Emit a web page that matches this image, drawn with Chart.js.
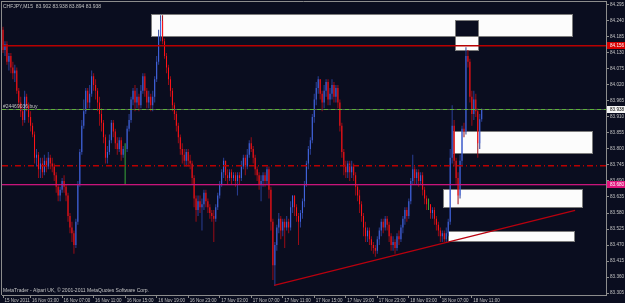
<!DOCTYPE html>
<html>
<head>
<meta charset="utf-8">
<script src="https://cdn.jsdelivr.net/npm/chart.js@4.4.0/dist/chart.umd.min.js"></script>
<style>
  html, body { margin: 0; padding: 0; background: #0a0d1f; }
  #wrap { width: 625px; height: 303px; }
</style>
</head>
<body>
<div id="wrap"><canvas id="chart" width="625" height="303"></canvas></div>
<script>
// CHFJPY M15, bar 0 = 15 Nov 23:30, one entry per bar
// each bar opens at the previous close
const firstOpen = 84.21;
const closes = [
  84.14, 84.16, 84.10, 84.12, 84.08, 84.06, 84.07, 84.00, 83.96, 83.93,
  83.90, 83.98, 83.95, 83.91, 83.88, 83.85, 83.77, 83.78, 83.73, 83.75,
  83.72, 83.76, 83.74, 83.77, 83.75, 83.74, 83.71, 83.67, 83.64, 83.66,
  83.69, 83.67, 83.64, 83.57, 83.53, 83.51, 83.47, 83.55, 83.68, 83.79,
  83.88, 83.93, 84.00, 83.96, 83.99, 84.05, 84.02, 84.00, 83.96, 83.92,
  83.89, 83.84, 83.77, 83.79, 83.83, 83.89, 83.86, 83.82, 83.80, 83.83,
  83.78, 83.80, 83.80, 83.87, 83.90, 83.97, 84.00, 83.96, 83.98, 83.95,
  84.00, 84.05, 84.00, 83.96, 83.98, 83.95, 83.98, 84.04, 84.10, 84.19,
  84.24, 84.17, 84.12, 84.08, 84.04, 84.00, 83.95, 83.92, 83.88, 83.84,
  83.80, 83.78, 83.76, 83.79, 83.76, 83.75, 83.70, 83.63, 83.59, 83.62,
  83.60, 83.61, 83.65, 83.62, 83.60, 83.58, 83.57, 83.56, 83.60, 83.64,
  83.68, 83.72, 83.76, 83.71, 83.70, 83.72, 83.70, 83.71, 83.69, 83.71,
  83.70, 83.74, 83.77, 83.74, 83.78, 83.82, 83.80, 83.77, 83.73, 83.71,
  83.68, 83.69, 83.71, 83.69, 83.73, 83.66, 83.55, 83.40, 83.47, 83.53,
  83.56, 83.52, 83.55, 83.53, 83.55, 83.53, 83.60, 83.64, 83.60, 83.57,
  83.55, 83.58, 83.62, 83.68, 83.75, 83.80, 83.83, 83.91, 83.97, 84.01,
  84.04, 83.99, 83.96, 84.00, 84.03, 83.97, 83.99, 84.02, 83.98, 84.01,
  83.96, 83.88, 83.79, 83.74, 83.72, 83.75, 83.72, 83.74, 83.71, 83.67,
  83.64, 83.61, 83.57, 83.53, 83.50, 83.52, 83.49, 83.47, 83.46, 83.45,
  83.49, 83.52, 83.55, 83.53, 83.56, 83.54, 83.50, 83.47, 83.48, 83.46,
  83.50, 83.49, 83.53, 83.56, 83.59, 83.57, 83.62, 83.69, 83.73, 83.70,
  83.72, 83.69, 83.71, 83.66, 83.63, 83.61, 83.61, 83.58, 83.59, 83.56,
  83.54, 83.52, 83.50, 83.51, 83.49, 83.51, 83.55, 83.77, 83.88, 83.76,
  83.70, 83.64, 83.76, 83.87, 83.86, 84.12, 84.10, 83.98, 83.92, 83.97,
  83.93, 83.82, 83.902, 83.938
];
const highs = [
  84.22, 84.17, 84.17, 84.13, 84.13, 84.10, 84.09, 84.08, 84.01, 83.98,
  83.94, 84.00, 83.99, 83.96, 83.93, 83.89, 83.86, 83.80, 83.79, 83.77,
  83.77, 83.78, 83.77, 83.79, 83.78, 83.77, 83.75, 83.72, 83.68, 83.67,
  83.70, 83.71, 83.68, 83.65, 83.58, 83.55, 83.52, 83.56, 83.69, 83.80,
  83.90, 83.97, 84.01, 84.01, 84.02, 84.07, 84.06, 84.04, 84.01, 83.98,
  83.94, 83.90, 83.85, 83.81, 83.85, 83.90, 83.90, 83.87, 83.84, 83.84,
  83.84, 83.81, 83.82, 83.88, 83.92, 83.98, 84.01, 84.02, 84.01, 83.99,
  84.02, 84.06, 84.06, 84.01, 84.00, 83.99, 84.00, 84.05, 84.12, 84.21,
  84.26, 84.26, 84.18, 84.13, 84.09, 84.05, 84.01, 83.96, 83.93, 83.89,
  83.85, 83.82, 83.80, 83.80, 83.80, 83.78, 83.76, 83.71, 83.64, 83.64,
  83.64, 83.63, 83.66, 83.66, 83.63, 83.61, 83.59, 83.59, 83.61, 83.65,
  83.69, 83.73, 83.77, 83.76, 83.73, 83.73, 83.73, 83.72, 83.72, 83.72,
  83.72, 83.76, 83.78, 83.78, 83.80, 83.83, 83.84, 83.81, 83.78, 83.74,
  83.72, 83.71, 83.72, 83.72, 83.74, 83.74, 83.67, 83.56, 83.48, 83.54,
  83.58, 83.57, 83.56, 83.56, 83.57, 83.56, 83.62, 83.64, 83.64, 83.61,
  83.58, 83.59, 83.63, 83.69, 83.76, 83.81, 83.84, 83.92, 83.99, 84.03,
  84.05, 84.04, 84.00, 84.02, 84.04, 84.04, 84.01, 84.04, 84.03, 84.02,
  84.02, 83.97, 83.89, 83.80, 83.76, 83.76, 83.76, 83.76, 83.75, 83.72,
  83.68, 83.66, 83.62, 83.58, 83.55, 83.53, 83.53, 83.50, 83.48, 83.47,
  83.50, 83.53, 83.56, 83.56, 83.57, 83.57, 83.55, 83.51, 83.50, 83.49,
  83.51, 83.52, 83.54, 83.57, 83.60, 83.60, 83.63, 83.70, 83.78, 83.74,
  83.73, 83.73, 83.72, 83.72, 83.67, 83.64, 83.63, 83.61, 83.60, 83.60,
  83.57, 83.55, 83.53, 83.52, 83.52, 83.53, 83.56, 83.80, 83.95, 83.90,
  83.77, 83.72, 83.78, 83.88, 83.89, 84.15, 84.14, 84.11, 84.00, 84.00,
  83.99, 83.94, 83.92, 83.938
];
const lows = [
  84.13, 84.12, 84.09, 84.07, 84.06, 84.04, 84.03, 83.99, 83.94, 83.91,
  83.88, 83.89, 83.93, 83.89, 83.86, 83.84, 83.75, 83.74, 83.70, 83.70,
  83.70, 83.71, 83.72, 83.73, 83.73, 83.72, 83.69, 83.65, 83.62, 83.62,
  83.65, 83.65, 83.62, 83.55, 83.51, 83.48, 83.44, 83.46, 83.54, 83.67,
  83.78, 83.87, 83.92, 83.94, 83.94, 83.98, 84.00, 83.97, 83.93, 83.88,
  83.86, 83.82, 83.75, 83.75, 83.78, 83.82, 83.84, 83.80, 83.78, 83.79,
  83.76, 83.77, 83.68, 83.79, 83.86, 83.89, 83.95, 83.93, 83.94, 83.93,
  83.94, 83.99, 83.98, 83.94, 83.94, 83.93, 83.93, 83.96, 84.03, 84.09,
  84.17, 84.16, 84.11, 84.06, 84.02, 83.98, 83.93, 83.90, 83.86, 83.82,
  83.78, 83.75, 83.74, 83.74, 83.74, 83.73, 83.68, 83.60, 83.55, 83.57,
  83.58, 83.52, 83.59, 83.60, 83.58, 83.56, 83.55, 83.48, 83.55, 83.59,
  83.63, 83.67, 83.70, 83.69, 83.68, 83.69, 83.68, 83.69, 83.67, 83.64,
  83.68, 83.69, 83.73, 83.71, 83.73, 83.77, 83.79, 83.75, 83.71, 83.69,
  83.66, 83.62, 83.67, 83.67, 83.68, 83.63, 83.52, 83.35, 83.33, 83.45,
  83.51, 83.49, 83.50, 83.46, 83.52, 83.51, 83.52, 83.58, 83.57, 83.55,
  83.47, 83.53, 83.56, 83.60, 83.67, 83.73, 83.78, 83.82, 83.89, 83.95,
  83.99, 83.97, 83.93, 83.94, 83.98, 83.95, 83.95, 83.97, 83.96, 83.96,
  83.94, 83.86, 83.77, 83.71, 83.70, 83.70, 83.69, 83.70, 83.69, 83.64,
  83.62, 83.58, 83.55, 83.50, 83.48, 83.48, 83.47, 83.45, 83.44, 83.43,
  83.44, 83.47, 83.50, 83.51, 83.52, 83.52, 83.48, 83.45, 83.45, 83.44,
  83.45, 83.47, 83.48, 83.51, 83.54, 83.55, 83.56, 83.61, 83.68, 83.68,
  83.68, 83.67, 83.68, 83.64, 83.61, 83.59, 83.59, 83.56, 83.56, 83.54,
  83.52, 83.50, 83.48, 83.48, 83.48, 83.48, 83.50, 83.54, 83.75, 83.74,
  83.68, 83.61, 83.63, 83.74, 83.84, 83.85, 84.08, 83.96, 83.88, 83.90,
  83.91, 83.77, 83.80, 83.894
];

const priceTicks = [84.295, 84.240, 84.185, 84.130, 84.075, 84.020, 83.965, 83.910, 83.855,
  83.800, 83.745, 83.690, 83.635, 83.580, 83.525, 83.470, 83.415, 83.360, 83.305];
const timeTickBars = [0, 14, 30, 46, 62, 78, 94, 110, 126, 142, 158, 174, 190, 206, 222, 238];
const timeLabels = ['15 Nov 2011', '16 Nov 03:00', '16 Nov 07:00', '16 Nov 11:00', '16 Nov 15:00',
  '16 Nov 19:00', '16 Nov 23:00', '17 Nov 03:00', '17 Nov 07:00', '17 Nov 11:00', '17 Nov 15:00',
  '17 Nov 19:00', '17 Nov 23:00', '18 Nov 03:00', '18 Nov 07:00', '18 Nov 11:00'];

// levels
const resistanceLevel = 84.156;
const orderLevel = 83.938;
const stopLevel = 83.745;
const supportLevel = 83.680;
const lastPrice = 83.938;

// zones as [fromBar, toBar, upper price, lower price]
const zones = [
  [75.1, 288.8, 84.264, 84.188],
  [229.4, 241.1, 84.243, 84.140],
  [228.4, 299.0, 83.862, 83.786],
  [223.4, 293.9, 83.662, 83.601],
  [225.9, 289.8, 83.517, 83.483]
];
const overlapZone = [229.4, 241.1, 84.243, 84.188];
const trendLine = [[137.6, 83.331], [290.4, 83.589]];

const titleText = 'CHFJPY,M15  83.902 83.938 83.894 83.938';
const orderText = '#24469036 buy';
const footerText = 'MetaTrader - Alpari UK, \u00a9 2001-2011 MetaQuotes Software Corp.';

const BG = '#0a0d1f';
const FONT = '"Liberation Sans", Arial, sans-serif';
const TEXT = '#c4c4c4';
const AXIS = '#8c8c8c';

// price axis: 84.295 sits 4px under the top, 290.91 px per yen
const yMax = 84.295 + 4 / 290.91;
const yMin = 83.305 - 2 / 290.91;

const opens = closes.map((c, i) => i === 0 ? firstOpen : closes[i - 1]);
const bodies = closes.map((c, i) => ({ x: i, y: [opens[i], c] }));
const wicks = closes.map((c, i) => ({
  x: i,
  y: [Math.min(lows[i], opens[i], c), Math.max(highs[i], opens[i], c)]
}));
const bodyColors = closes.map((c, i) => c > opens[i] ? '#4468e4' : c < opens[i] ? '#ff1418' : '#3aa83a');
const wickColors = closes.map((c, i) => c > opens[i] ? '#2a3f96' : c < opens[i] ? '#9a0c16' : '#3aa83a');

const overlays = {
  id: 'overlays',
  beforeDatasetsDraw(chart) {
    const { ctx, chartArea: a, scales: { x, y } } = chart;
    ctx.save();
    ctx.beginPath();
    ctx.rect(a.left, a.top, a.right - a.left, a.bottom - a.top);
    ctx.clip();
    const box = (z, fill) => {
      const x0 = Math.round(x.getPixelForValue(z[0])) + 0.5;
      const x1 = Math.round(x.getPixelForValue(z[1])) + 0.5;
      const y0 = Math.round(y.getPixelForValue(z[2])) + 0.5;
      const y1 = Math.round(y.getPixelForValue(z[3])) + 0.5;
      ctx.fillStyle = fill;
      ctx.fillRect(x0, y0, x1 - x0, y1 - y0);
      ctx.strokeStyle = '#7c7c7c';
      ctx.lineWidth = 1;
      ctx.strokeRect(x0, y0, x1 - x0, y1 - y0);
    };
    zones.forEach(z => box(z, '#fcfcfc'));
    box(overlapZone, BG);
    ctx.restore();
  },
  afterDatasetsDraw(chart) {
    const { ctx, chartArea: a, scales: { x, y } } = chart;
    ctx.save();
    ctx.beginPath();
    ctx.rect(a.left, a.top, a.right - a.left, a.bottom - a.top);
    ctx.clip();
    // level lines as thin strips, dash pattern = [on, off, on, off...]
    const hline = (price, color, h, dash) => {
      const py = Math.round(y.getPixelForValue(price));
      ctx.fillStyle = color;
      if (!dash) {
        ctx.fillRect(a.left, py, a.right - a.left, h);
        return;
      }
      let px = a.left, k = 0;
      while (px < a.right) {
        const len = dash[k % dash.length];
        if (k % 2 === 0) ctx.fillRect(px, py, Math.min(len, a.right - px), h);
        px += len;
        k++;
      }
    };
    hline(resistanceLevel, '#b80000', 1.5);
    hline(orderLevel, '#545c54', 1);
    hline(orderLevel, '#5cb23a', 1, [4, 3]);
    hline(stopLevel, '#b80000', 1.5, [6, 3, 1, 3]);
    hline(supportLevel, '#c8147a', 1.3);

    ctx.strokeStyle = '#b8000e';
    ctx.lineWidth = 1.2;
    ctx.beginPath();
    ctx.moveTo(x.getPixelForValue(trendLine[0][0]), y.getPixelForValue(trendLine[0][1]));
    ctx.lineTo(x.getPixelForValue(trendLine[1][0]), y.getPixelForValue(trendLine[1][1]));
    ctx.stroke();

    ctx.fillStyle = TEXT;
    ctx.font = '5px ' + FONT;
    ctx.textBaseline = 'alphabetic';
    ctx.textAlign = 'left';
    ctx.fillText(titleText, 3, 8);
    ctx.fillText(orderText, 3, Math.round(y.getPixelForValue(orderLevel)) - 1);
    ctx.fillText(footerText, 3, 292);
    ctx.restore();
  },
  afterDraw(chart) {
    const { ctx, chartArea: a, scales: { y } } = chart;
    ctx.save();
    ctx.strokeStyle = AXIS;
    ctx.lineWidth = 1;
    ctx.beginPath();
    ctx.moveTo(a.left - 1, a.top + 0.5);
    ctx.lineTo(a.right, a.top + 0.5);
    ctx.moveTo(a.left - 0.5, a.top);
    ctx.lineTo(a.left - 0.5, a.bottom);
    ctx.stroke();

    const tag = (price, bg, fg) => {
      const py = Math.round(y.getPixelForValue(price));
      ctx.fillStyle = bg;
      ctx.fillRect(a.right + 1, py - 3, chart.width - a.right - 1, 7);
      ctx.fillStyle = fg;
      ctx.font = '4.6px ' + FONT;
      ctx.textBaseline = 'middle';
      ctx.fillText(price.toFixed(3), a.right + 4, py + 0.5);
    };
    tag(resistanceLevel, '#d80000', '#ffffff');
    tag(lastPrice, '#f4f4f4', '#000000');
    tag(supportLevel, '#e0147c', '#ffffff');
    ctx.restore();
  }
};

const barOpts = { grouped: false, barThickness: 1, inflateAmount: 0, borderWidth: 0 };

new Chart(document.getElementById('chart'), {
  type: 'bar',
  data: {
    datasets: [
      Object.assign({ label: 'body', data: bodies, backgroundColor: bodyColors, maxBarThickness: 1.6 }, barOpts),
      Object.assign({ label: 'wick', data: wicks, backgroundColor: wickColors, maxBarThickness: 1 }, barOpts)
    ]
  },
  options: {
    responsive: false,
    animation: false,
    devicePixelRatio: 1,
    layout: { padding: { left: 2, top: 1, right: 0, bottom: 0 } },
    plugins: { legend: { display: false }, tooltip: { enabled: false } },
    scales: {
      x: {
        type: 'linear',
        min: -1 / 1.97,
        max: -1 / 1.97 + 604 / 1.97,
        offset: false,
        bounds: 'data',
        grid: { offset: false, drawOnChartArea: false, color: AXIS, tickLength: 3 },
        border: { color: AXIS },
        afterBuildTicks: s => { s.ticks = timeTickBars.map(v => ({ value: v })); },
        afterFit: s => { s.height = 8; s.paddingLeft = 0; s.paddingRight = 0; },
        ticks: {
          autoSkip: false,
          maxRotation: 0,
          align: 'start',
          padding: 0,
          labelOffset: 1.5,
          color: TEXT,
          font: { family: FONT, size: 4.5 },
          callback: (v, i) => timeLabels[i]
        }
      },
      y: {
        type: 'linear',
        position: 'right',
        min: yMin,
        max: yMax,
        bounds: 'data',
        grid: { drawOnChartArea: false, color: AXIS, tickLength: 3 },
        border: { color: AXIS },
        afterBuildTicks: s => { s.ticks = priceTicks.map(v => ({ value: v })); },
        afterFit: s => { s.width = 19; s.paddingTop = 0; s.paddingBottom = 0; },
        ticks: {
          padding: 1,
          color: TEXT,
          font: { family: FONT, size: 4.6 },
          callback: v => v.toFixed(3)
        }
      }
    }
  },
  plugins: [overlays]
});
</script>
</body>
</html>
